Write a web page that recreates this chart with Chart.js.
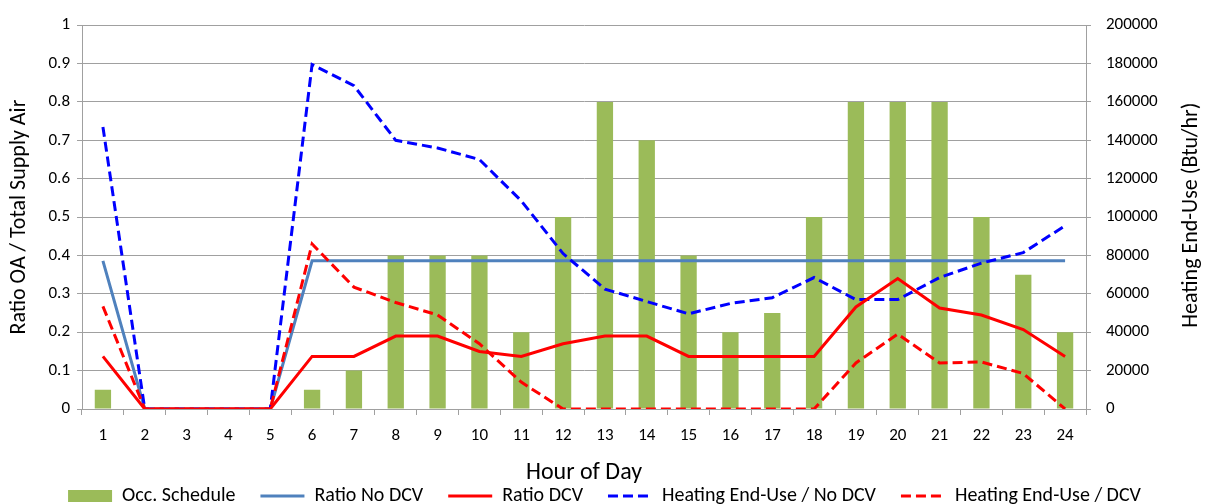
<!DOCTYPE html>
<html>
<head>
<meta charset="utf-8">
<script src="https://cdn.jsdelivr.net/npm/chart.js@4.4.1/dist/chart.umd.min.js"></script>
<style>
  html, body { margin: 0; padding: 0; background: #ffffff; }
  #wrap { width: 1209px; height: 504px; position: relative; }
</style>
</head>
<body>
<div id="wrap"><canvas id="c"></canvas></div>
<script>
// ---- data ----
const hours = ['1','2','3','4','5','6','7','8','9','10','11','12','13','14','15','16','17','18','19','20','21','22','23','24'];
const occSchedule = [0.05,0,0,0,0,0.05,0.1,0.4,0.4,0.4,0.2,0.5,0.8,0.7,0.4,0.2,0.25,0.5,0.8,0.8,0.8,0.5,0.35,0.2];
const ratioNoDCV = [0.386,0,0,0,0,0.386,0.386,0.386,0.386,0.386,0.386,0.386,0.386,0.386,0.386,0.386,0.386,0.386,0.386,0.386,0.386,0.386,0.386,0.386];
const ratioDCV = [0.137,0,0,0,0,0.137,0.137,0.19,0.19,0.15,0.137,0.17,0.19,0.19,0.137,0.137,0.137,0.137,0.266,0.34,0.263,0.245,0.207,0.137];
const heatNoDCV = [147000,0,0,0,0,179500,168500,140000,136000,130000,108500,81000,62500,56000,49600,55000,58000,68500,57000,57000,68500,76000,81500,95500];
const heatDCV = [53500,0,0,0,0,86000,63500,55500,49000,34000,14000,0,0,0,0,0,0,0,24000,39000,24000,24500,18500,0];
const leftTickLabels = ['0','0.1','0.2','0.3','0.4','0.5','0.6','0.7','0.8','0.9','1'];
const rightTickLabels = ['0','20000','40000','60000','80000','100000','120000','140000','160000','180000','200000'];
const seriesNames = ['Occ. Schedule','Ratio No DCV','Ratio DCV','Heating End-Use / No DCV','Heating End-Use / DCV'];
const xTitle = 'Hour of Day';
const leftTitle = 'Ratio OA / Total Supply Air';
const rightTitle = 'Heating End-Use (Btu/hr)';

const FONT = "Carlito, Lato, 'Open Sans', sans-serif";
const GRID = '#a0a0a0';

const rightTitlePlugin = {
  id: 'rightTitle',
  afterDraw(chart) {
    const ctx = chart.ctx;
    const area = chart.chartArea;
    ctx.save();
    ctx.font = "22px " + FONT;
    ctx.fillStyle = '#000';
    ctx.textAlign = 'center';
    ctx.textBaseline = 'middle';
    ctx.translate(1191, (area.top + area.bottom) / 2 - 2);
    ctx.rotate(-Math.PI / 2);
    ctx.fillText(rightTitle, 0, 0);
    ctx.restore();
  }
};

function legendLabels(chart) {
  const items = Chart.defaults.plugins.legend.labels.generateLabels(chart);
  items.forEach(item => {
    const ds = chart.data.datasets[item.datasetIndex];
    if (ds.type === 'line') {
      item.lineDash = ds.borderDash || [];
      item.lineWidth = 3;
      item.strokeStyle = ds.borderColor;
      item.pointStyle = 'line';
    } else {
      item.lineWidth = 0;
      item.pointStyle = 'rect';
      item.fillStyle = ds.backgroundColor;
    }
  });
  return items;
}

new Chart(document.getElementById('c'), {
  type: 'bar',
  data: {
    labels: hours,
    datasets: [
      { type: 'bar', label: seriesNames[0], data: occSchedule, yAxisID: 'y',
        backgroundColor: '#9bbb59', borderWidth: 0, barPercentage: 0.39, categoryPercentage: 1,
        order: 10 },
      { type: 'line', label: seriesNames[1], data: ratioNoDCV, yAxisID: 'y',
        borderColor: '#4f81bd', backgroundColor: '#4f81bd', borderWidth: 3, pointRadius: 0, tension: 0,
        order: 4 },
      { type: 'line', label: seriesNames[2], data: ratioDCV, yAxisID: 'y',
        borderColor: '#ff0000', backgroundColor: '#ff0000', borderWidth: 3, pointRadius: 0, tension: 0,
        order: 2 },
      { type: 'line', label: seriesNames[3], data: heatNoDCV, yAxisID: 'y1',
        borderColor: '#0000ff', backgroundColor: '#0000ff', borderWidth: 3, borderDash: [10, 5], pointRadius: 0, tension: 0,
        order: 3 },
      { type: 'line', label: seriesNames[4], data: heatDCV, yAxisID: 'y1',
        borderColor: '#ff0000', backgroundColor: '#ff0000', borderWidth: 3, borderDash: [10, 5], pointRadius: 0, tension: 0,
        order: 1 }
    ]
  },
  options: {
    responsive: true,
    maintainAspectRatio: false,
    animation: false,
    layout: { padding: { top: 18, left: 0, right: 0, bottom: 0 } },
    plugins: {
      tooltip: { enabled: false },
      legend: {
        position: 'bottom',
        maxHeight: 43,
        labels: {
          font: { family: FONT, size: 20 },
          color: '#000',
          usePointStyle: true,
          pointStyleWidth: 44,
          boxHeight: 12,
          padding: 25,
          generateLabels: legendLabels,
          sort: (a, b) => a.datasetIndex - b.datasetIndex
        }
      }
    },
    scales: {
      x: {
        offset: true,
        grid: { display: true, offset: true, drawOnChartArea: false, drawTicks: true, tickLength: 6, color: GRID },
        border: { display: true, color: GRID, width: 1 },
        ticks: { font: { family: FONT, size: 17 }, color: '#000', padding: 11, maxRotation: 0, autoSkip: false },
        title: { display: true, text: xTitle, font: { family: FONT, size: 24 }, color: '#000', padding: { top: 0, bottom: -26 } },
        afterFit: s => { s.height = 52; }
      },
      y: {
        position: 'left',
        min: 0, max: 1,
        ticks: { stepSize: 0.1, font: { family: FONT, size: 17 }, color: '#000', padding: 7,
                 callback: v => leftTickLabels[Math.round(v * 10)] },
        grid: { color: GRID, lineWidth: 1, tickLength: 5 },
        border: { display: true, color: GRID, width: 1 },
        title: { display: true, text: leftTitle, font: { family: FONT, size: 22 }, color: '#000', padding: { top: 6, bottom: 0 } },
        afterFit: s => { s.width = 82; }
      },
      y1: {
        position: 'right',
        min: 0, max: 200000,
        ticks: { stepSize: 20000, font: { family: FONT, size: 17 }, color: '#000', padding: 15,
                 callback: v => rightTickLabels[Math.round(v / 20000)] },
        grid: { drawOnChartArea: false, color: GRID, lineWidth: 1, tickLength: 5 },
        border: { display: true, color: GRID, width: 1 },
        afterFit: s => { s.width = 123; }
      }
    }
  },
  plugins: [rightTitlePlugin]
});
</script>
</body>
</html>
